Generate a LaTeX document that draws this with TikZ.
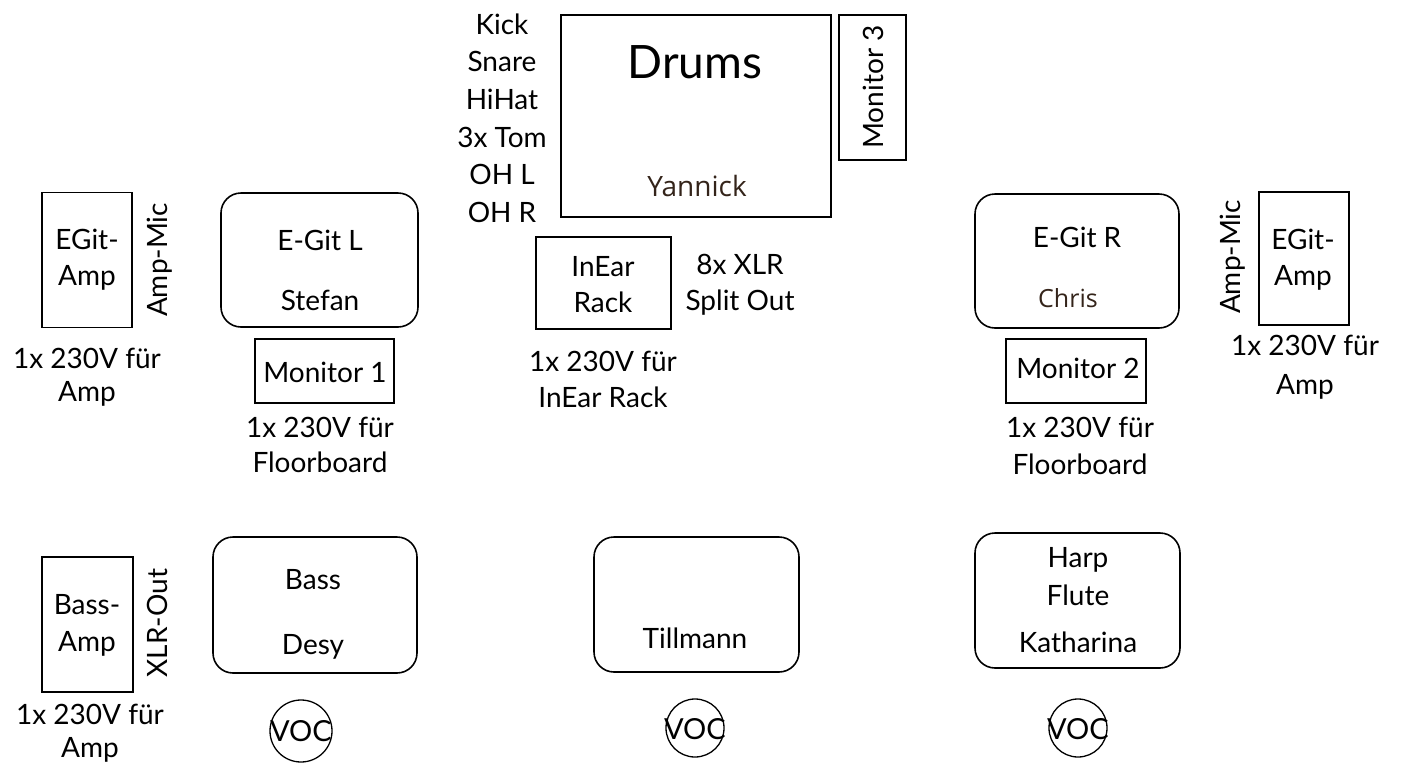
\documentclass[tikz,border=0pt]{standalone}
\usepackage{fontspec}
\setmainfont{Lato}
\newfontfamily\segfont{Open Sans}
\definecolor{namebrown}{RGB}{52,36,26}
\tikzset{
  sq/.style={draw, line width=1.6pt, inner sep=0pt, minimum width=#1},
  rbox/.style={draw, line width=1.6pt, rounded corners=20pt, inner sep=0pt, minimum width=#1},
  lbl/.style={inner sep=0pt, align=center, font=\fontsize{28}{36}\selectfont},
  namelbl/.style={inner sep=0pt, text=namebrown, font=\segfont\fontsize{25}{30}\selectfont},
  voc/.style={draw, line width=1.3pt, circle, minimum size=62pt, inner sep=0pt},
  voctxt/.style={inner sep=0pt, font=\fontsize{29}{30}\selectfont}
}
\begin{document}
\begin{tikzpicture}[x=1pt,y=-1pt]
\useasboundingbox[fill=white] (0,0) rectangle (1401,769);

% ---- top left: EGit amp
\node[sq=90pt, minimum height=135pt] (ampL) at (87,260) {};
\node[lbl] (ampLt) at (87,260) {EGit-\\Amp};
\node[lbl, rotate=90] (micL) at (160,260) {Amp-Mic};
\node[lbl, font=\fontsize{28}{33}\selectfont] (pwrAmpL) at (87,377) {1x 230V für\\Amp};

% ---- E-Git L
\node[rbox=197pt, minimum height=134pt] (egitL) at (319.5,260) {};
\node[lbl] (egitLt) at (320,240) {E-Git L};
\node[lbl] (stefan) at (320,300) {Stefan};
\node[sq=139pt, minimum height=64pt] (mon1) at (324.5,371) {};
\node[lbl] (mon1t) at (325,372) {Monitor 1};
\node[lbl, font=\fontsize{28}{35}\selectfont] (pwrFloorL) at (320,445) {1x 230V für\\Floorboard};

% ---- Drums
\node[lbl, font=\fontsize{28}{37.6}\selectfont] (mics) at (502,118) {Kick\\Snare\\HiHat\\3x Tom\\OH L\\OH R};
\node[sq=270pt, minimum height=202pt] (drums) at (696,116) {};
\node[lbl, font=\fontsize{46}{50}\selectfont] (drumst) at (695,62) {Drums};
\node[namelbl, font=\segfont\fontsize{28}{30}\selectfont] (yannick) at (697,186) {Yannick};
\node[sq=67pt, minimum height=145pt] (mon3) at (872.5,87.5) {};
\node[lbl, rotate=90] (mon3t) at (873,87) {Monitor 3};

% ---- InEar rack
\node[sq=135pt, minimum height=92pt] (inear) at (603.5,283) {};
\node[lbl] (ineart) at (603,285) {InEar\\Rack};
\node[lbl] (xlr) at (740,285) {8x XLR\\Split Out};
\node[lbl] (pwrInear) at (603,379) {1x 230V für\\InEar Rack};

% ---- E-Git R
\node[rbox=204pt, minimum height=134pt] (egitR) at (1077,261) {};
\node[lbl] (egitRt) at (1077,237) {E-Git R};
\node[namelbl] (chris) at (1068,298) {Chris};
\node[sq=140pt, minimum height=64pt] (mon2) at (1076,371) {};
\node[lbl] (mon2t) at (1078,368) {Monitor 2};
\node[lbl, font=\fontsize{28}{37}\selectfont] (pwrFloorR) at (1080,446) {1x 230V für\\Floorboard};
\node[lbl, rotate=90] (micR) at (1233,257) {Amp-Mic};
\node[sq=90pt, minimum height=133pt] (ampR) at (1304,258.5) {};
\node[lbl] (ampRt) at (1303,260) {EGit-\\Amp};
\node[lbl, font=\fontsize{28}{39}\selectfont] (pwrAmpR) at (1305,367) {1x 230V für\\Amp};

% ---- bottom left: Bass amp
\node[sq=91pt, minimum height=135pt] (bassamp) at (87.5,624.5) {};
\node[lbl, font=\fontsize{28}{37}\selectfont] (bassampt) at (87,625) {Bass-\\Amp};
\node[lbl, rotate=90] (xlrout) at (157,623) {XLR-Out};
\node[lbl, font=\fontsize{28}{33}\selectfont] (pwrBass) at (90,733) {1x 230V für\\Amp};

% ---- bottom row boxes
\node[rbox=204pt, minimum height=136pt] (bass) at (315,605) {};
\node[lbl] (basst) at (313,580) {Bass};
\node[lbl] (desy) at (313,647) {Desy};
\node[rbox=205pt, minimum height=135pt] (till) at (696.5,604.5) {};
\node[lbl] (tillt) at (695,638) {Tillmann};
\node[rbox=205pt, minimum height=135pt] (harp) at (1077.5,600.5) {};
\node[lbl, font=\fontsize{28}{38}\selectfont] (harpt) at (1078,600) {Harp\\Flute\\[9pt]Katharina};

% ---- vocal mics
\node[voc] (voc1) at (301,731) {};
\node[voctxt] (voc1t) at (301,731) {VOC};
\node[voc, minimum size=58pt] (voc2) at (695,728) {};
\node[voctxt] (voc2t) at (695,729) {VOC};
\node[voc, minimum size=58pt] (voc3) at (1078,728) {};
\node[voctxt] (voc3t) at (1078,729) {VOC};
\end{tikzpicture}
\end{document}
